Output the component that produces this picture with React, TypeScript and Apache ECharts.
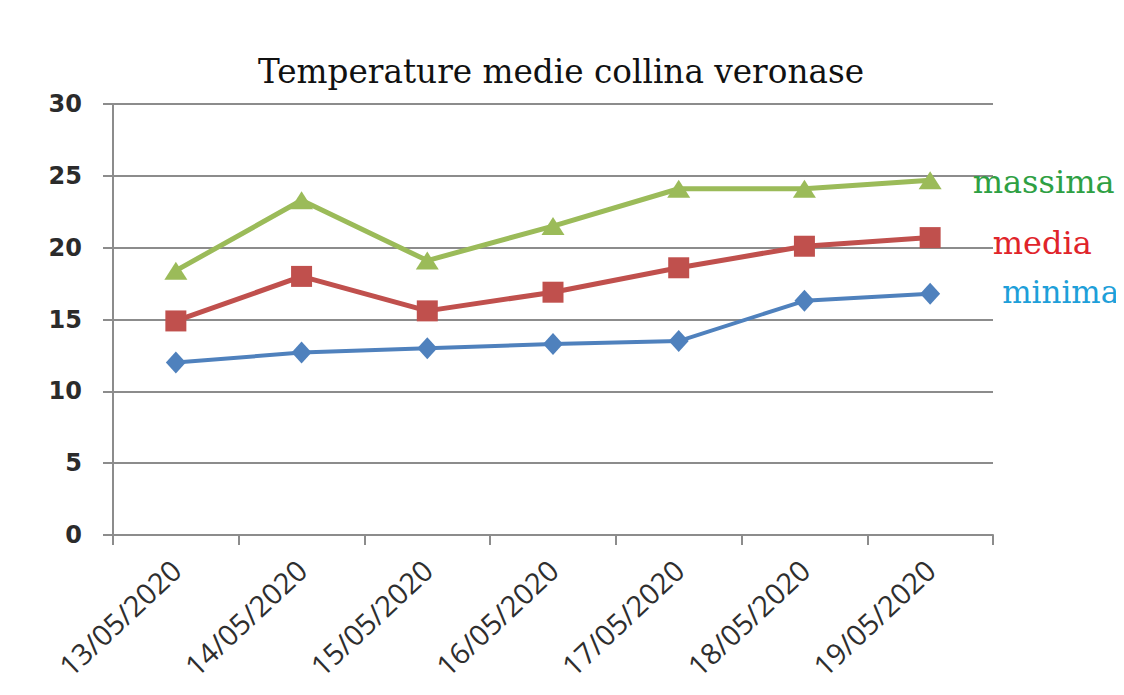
import React, { useEffect, useRef } from "react";
import * as echarts from "echarts";

const categories = ["13/05/2020", "14/05/2020", "15/05/2020", "16/05/2020", "17/05/2020", "18/05/2020", "19/05/2020"];
const massima = [18.4, 23.3, 19.1, 21.5, 24.1, 24.1, 24.7];
const media = [14.9, 18.0, 15.6, 16.9, 18.6, 20.1, 20.7];
const minima = [12.0, 12.7, 13.0, 13.3, 13.5, 16.3, 16.8];
const yTicks = { min: 0, max: 30, interval: 5 };

function withEndLabel(values: number[], label: object) {
  return values.map((v, i) =>
    i === values.length - 1 ? { value: v, label: { show: true, ...label } } : v
  );
}

export default function App() {
  const ref = useRef<HTMLDivElement>(null);
  useEffect(() => {
    if (!ref.current) return;
    const chart = echarts.init(ref.current, null, { renderer: "svg" });
    const axisGray = "#8c8c8c";
    const labelFont = "DejaVu Serif";
    chart.setOption({
      animation: false,
      backgroundColor: "#ffffff",
      title: {
        text: "Temperature medie collina veronase",
        left: 245,
        top: 42,
        textStyle: { fontFamily: "DejaVu Serif", fontSize: 32.7, fontWeight: "normal", color: "#111" },
      },
      grid: { left: 105, right: 131, top: 96, bottom: 152 },
      xAxis: {
        type: "category",
        data: categories,
        boundaryGap: true,
        axisLine: { lineStyle: { color: axisGray, width: 2 } },
        axisTick: { show: true, length: 10, lineStyle: { color: axisGray, width: 2 } },
        axisLabel: {
          rotate: 43,
          margin: 30,
          fontFamily: "Open Sans",
          fontSize: 29,
          color: "#2e2e2e",
          interval: 0,
        },
      },
      yAxis: {
        type: "value",
        min: yTicks.min,
        max: yTicks.max,
        interval: yTicks.interval,
        axisLine: { show: true, lineStyle: { color: axisGray, width: 2 } },
        axisTick: { show: true, length: 10, lineStyle: { color: axisGray, width: 2 } },
        splitLine: { show: true, lineStyle: { color: axisGray, width: 2 } },
        axisLabel: {
          margin: 31,
          fontFamily: "DejaVu Sans",
          fontSize: 24,
          fontWeight: "bold",
          color: "#2b2b2b",
        },
      },
      series: [
        {
          name: "massima",
          type: "line",
          data: withEndLabel(massima, {
            position: "right",
            formatter: "{a}",
            offset: [26, 2],
            color: "#2ea043",
            fontFamily: labelFont,
            fontSize: 32,
          }),
          symbol: "triangle",
          symbolSize: [23, 18],
          lineStyle: { color: "#9bbb59", width: 5 },
          itemStyle: { color: "#9bbb59" },
        },
        {
          name: "media",
          type: "line",
          data: withEndLabel(media, {
            position: "right",
            formatter: "{a}",
            offset: [47, 5],
            color: "#e0242a",
            fontFamily: labelFont,
            fontSize: 32,
          }),
          symbol: "rect",
          symbolSize: 21,
          lineStyle: { color: "#c0504d", width: 5 },
          itemStyle: { color: "#c0504d" },
        },
        {
          name: "minima",
          type: "line",
          data: withEndLabel(minima, {
            position: "right",
            formatter: "{a}",
            offset: [57, -2],
            color: "#1e9fd9",
            fontFamily: labelFont,
            fontSize: 31,
          }),
          symbol: "diamond",
          symbolSize: [20, 22],
          lineStyle: { color: "#4f81bd", width: 4 },
          itemStyle: { color: "#4f81bd" },
        },
      ],
    });
    return () => chart.dispose();
  }, []);
  return <div ref={ref} style={{ width: 1116, height: 679, marginRight: -8 }} />;
}
